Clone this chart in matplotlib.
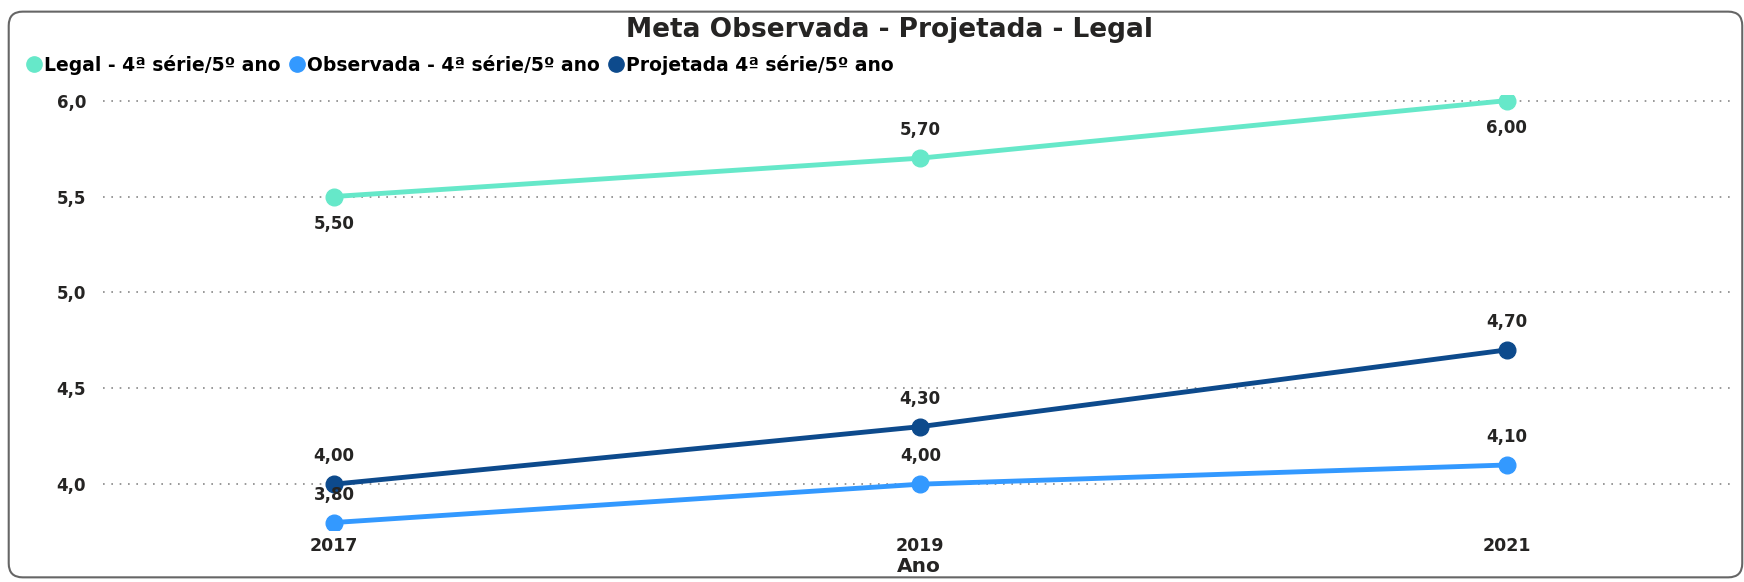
import matplotlib.pyplot as plt
from matplotlib.patches import FancyBboxPatch

anos = ['2017', '2019', '2021']
legal = [5.50, 5.70, 6.00]
observada = [3.80, 4.00, 4.10]
projetada = [4.00, 4.30, 4.70]

labels = ['Legal - 4ª série/5º ano', 'Observada - 4ª série/5º ano', 'Projetada 4ª série/5º ano']
colors = ['#66E8C9', '#3399FF', '#0D4A8C']
# where each data label sits: +1 above, -1 below
label_pos = [[-1, 1, -1], [1, 1, 1], [1, 1, 1]]


def fmt(v, d):
    return ('%.*f' % (d, v)).replace('.', ',')


def plot_lines():
    fig = plt.figure(figsize=(17.44, 5.82), dpi=100)
    fig.patches.append(FancyBboxPatch((0.005, 0.008), 0.994, 0.972,
                                      boxstyle='round,pad=0,rounding_size=0.008',
                                      transform=fig.transFigure, fill=False,
                                      ec='#666666', lw=1.5, mutation_aspect=3))
    ax = fig.add_axes([0.059, 0.089, 0.936, 0.748])
    x = list(range(len(anos)))
    series = [legal, observada, projetada]
    for i, ys in enumerate(series):
        ax.plot(x, ys, '-o', color=colors[i], lw=3.5, ms=12, label=labels[i],
                solid_capstyle='round')
        for j, v in enumerate(ys):
            off = 20 if label_pos[i][j] > 0 else -20
            ax.annotate(fmt(v, 2), (x[j], v), xytext=(0, off), textcoords='offset points',
                        ha='center', va='center', fontsize=12, fontweight='bold',
                        color='#252423')

    ax.set_xlim(-0.394, 2.39)
    ax.set_ylim(3.76, 6.03)
    ax.set_xticks(x)
    ax.set_xticklabels(anos, fontsize=12.5, fontweight='bold', color='#252423')
    ax.set_yticks([4.0, 4.5, 5.0, 5.5, 6.0])
    ax.set_yticklabels([fmt(t, 1) for t in [4.0, 4.5, 5.0, 5.5, 6.0]],
                       fontsize=12, fontweight='bold', color='#252423')
    ax.tick_params(length=0, pad=12)
    ax.tick_params(axis='x', pad=5)
    ax.grid(axis='y', ls=(0, (1, 4)), color='#888888', lw=1.2)
    for s in ax.spines.values():
        s.set_visible(False)
    ax.set_xlabel('Ano', fontsize=14.5, fontweight='bold', color='#252423', labelpad=1)

    fig.text(0.51, 0.948, 'Meta Observada - Projetada - Legal', ha='center', va='center',
             fontsize=19, fontweight='bold', color='#252423')
    fig.legend(loc='upper left', bbox_to_anchor=(0.006, 0.935), ncol=3, frameon=False,
               handlelength=0.7, handletextpad=0.2, columnspacing=0.5,
               prop={'weight': 'bold', 'size': 13.5})
    leg = fig.legends[0]
    for h in leg.legend_handles:
        h.set_linestyle('')
        h.set_markersize(11)

    plt.savefig('out.png', dpi=100)
    print('Wrote to out.png')


if __name__ == '__main__':
    plot_lines()
